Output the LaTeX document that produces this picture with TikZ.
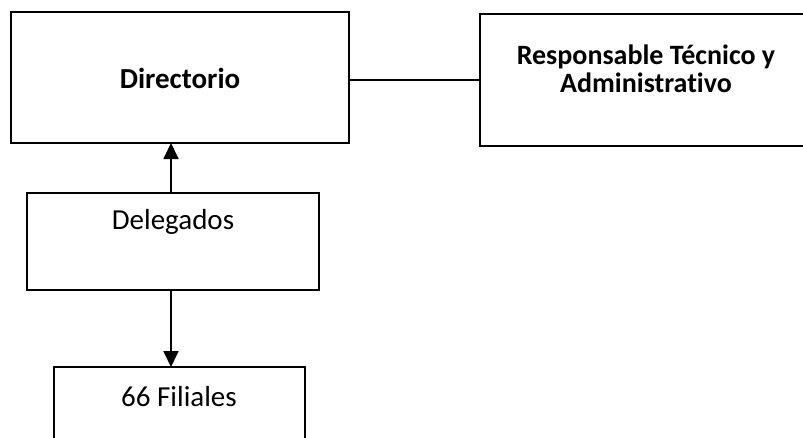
\documentclass[tikz,border=0pt]{standalone}
\usepackage{fontspec}
\setmainfont[RawFeature=-liga]{Carlito}
\usetikzlibrary{arrows.meta}
\begin{document}
\begin{tikzpicture}[x=1pt,y=-1pt,
  boxstyle/.style={draw=black, line width=1.8pt, rectangle, inner sep=0pt, outer sep=0pt},
  txt/.style={font=\fontsize{29}{34}\selectfont, align=center, inner sep=0pt},
  conn/.style={draw=black, line width=1.8pt},
  arr/.style={conn, -{Triangle[width=15pt,length=16pt]}}]
\useasboundingbox (0,0) rectangle (803,437);
\fill[white] (0,0) rectangle (803,437);
\clip (0,0) rectangle (803,437);
% boxes
\node[boxstyle, minimum width=338pt, minimum height=131pt] (dir) at (180,77.5) {};
\node[boxstyle, minimum width=350pt, minimum height=132pt] (resp) at (655,80) {};
\node[boxstyle, minimum width=292pt, minimum height=97pt] (del) at (173,241.5) {};
\node[boxstyle, minimum width=251pt, minimum height=120pt] (fil) at (179.5,427) {};
% texts
\node[txt, font=\fontsize{29}{34}\selectfont\bfseries] (dirt) at (180,78) {Directorio};
\node[txt, font=\fontsize{28}{28}\selectfont\bfseries] (respt) at (646,69) {Responsable Técnico y\\Administrativo};
\node[txt] (delt) at (173,222) {Delegados};
\node[txt] (filt) at (179,397) {66 Filiales};
% connectors
\draw[conn] (dir.east |- 0,80) -- (resp.west |- 0,80);
\draw[arr] (del.north -| 171,0) -- (dir.south -| 171,0);
\draw[arr] (del.south -| 171,0) -- (fil.north -| 171,0);
\end{tikzpicture}
\end{document}
